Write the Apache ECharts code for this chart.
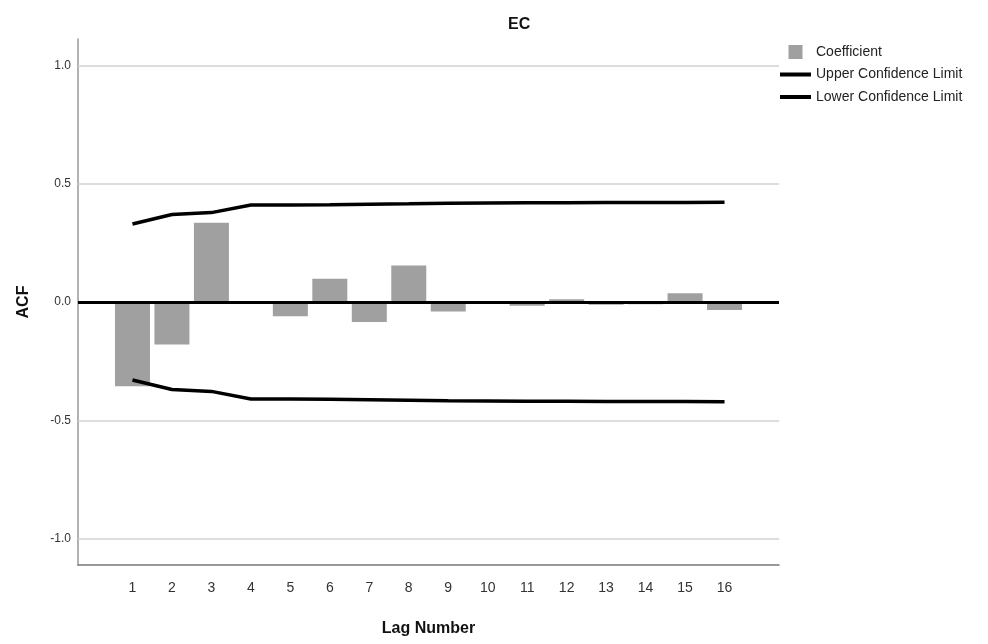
<!DOCTYPE html>
<html>
<head>
<meta charset="utf-8">
<script src="https://cdn.jsdelivr.net/npm/echarts@6/dist/echarts.min.js"></script>
<style>
  html, body { margin: 0; padding: 0; background: #fff; }
  #main { width: 988px; height: 644px; }
</style>
</head>
<body>
<div id="main"></div>
<script>
var lags = [1, 2, 3, 4, 5, 6, 7, 8, 9, 10, 11, 12, 13, 14, 15, 16];
var coefficient = [-0.356, -0.18, 0.335, -0.004, -0.06, 0.098, -0.085, 0.154, -0.04, -0.004, -0.016, 0.012, -0.012, -0.01, 0.037, -0.034];
var upperLimit = [0.33, 0.37, 0.378, 0.41, 0.41, 0.411, 0.413, 0.415, 0.418, 0.419, 0.42, 0.42, 0.421, 0.421, 0.421, 0.422];
var lowerLimit = [-0.33, -0.37, -0.378, -0.41, -0.41, -0.411, -0.413, -0.415, -0.418, -0.419, -0.42, -0.42, -0.421, -0.421, -0.421, -0.422];
var yTicks = [-1.0, -0.5, 0.0, 0.5, 1.0];

var font = "'Liberation Sans', Arial, sans-serif";

function pairs(vals) {
  return lags.map(function (l, i) { return [l, vals[i]]; });
}

var chart = echarts.init(document.getElementById('main'), null, { renderer: 'canvas' });

var lineIcon = 'path://M0,0L31,0L31,4L0,4Z';

var option = {
  animation: false,
  backgroundColor: '#fff',
  title: {
    text: 'EC',
    left: 503,
    top: 12,
    textStyle: { fontFamily: font, fontSize: 16, fontWeight: 'bold', color: '#111' }
  },
  legend: {
    orient: 'vertical',
    left: 775,
    top: 40,
    itemWidth: 31,
    itemHeight: 14,
    itemGap: 8.5,
    textStyle: { fontFamily: font, fontSize: 14, color: '#222' },
    data: [
      { name: 'Coefficient', icon: 'path://M0,0L10,0L10,10L0,10Z' },
      { name: 'Upper Confidence Limit', icon: lineIcon },
      { name: 'Lower Confidence Limit', icon: lineIcon }
    ]
  },
  grid: { left: 78, right: 209, top: 39, bottom: 79 },
  xAxis: {
    type: 'value',
    min: -0.38,
    max: 17.38,
    name: 'Lag Number',
    nameLocation: 'middle',
    nameGap: 56,
    nameTextStyle: { fontFamily: font, fontSize: 16, fontWeight: 'bold', color: '#111' },
    axisLine: { show: true, onZero: false, lineStyle: { color: '#777', width: 1.5 } },
    axisTick: { show: false },
    splitLine: { show: false },
    axisLabel: {
      customValues: lags,
      margin: 16,
      fontFamily: font,
      fontSize: 14,
      color: '#333'
    }
  },
  yAxis: {
    type: 'value',
    min: -1.112,
    max: 1.112,
    name: 'ACF',
    nameLocation: 'middle',
    nameGap: 46,
    nameTextStyle: { fontFamily: font, fontSize: 16, fontWeight: 'bold', color: '#111' },
    axisLine: { show: true, onZero: false, lineStyle: { color: '#999', width: 1.5 } },
    axisTick: { show: false },
    splitLine: { show: false },
    axisLabel: {
      customValues: yTicks,
      margin: 7,
      fontFamily: font,
      fontSize: 12,
      color: '#333',
      formatter: function (v) { return v.toFixed(1); }
    }
  },
  series: [
    {
      name: 'Coefficient',
      type: 'bar',
      barWidth: 35,
      itemStyle: { color: '#a0a0a0' },
      data: pairs(coefficient),
      markLine: {
        silent: true,
        symbol: ['none', 'none'],
        label: { show: false },
        lineStyle: { color: '#d2d2d2', width: 1.5, type: 'solid' },
        data: yTicks.filter(function (t) { return t !== 0; }).map(function (t) { return { yAxis: t }; })
      }
    },
    {
      name: 'Upper Confidence Limit',
      type: 'line',
      symbol: 'none',
      lineStyle: { color: '#000', width: 3.5 },
      itemStyle: { color: '#000' },
      data: pairs(upperLimit),
      z: 5,
      markLine: {
        silent: true,
        symbol: ['none', 'none'],
        label: { show: false },
        lineStyle: { color: '#000', width: 3, type: 'solid' },
        data: [{ yAxis: 0 }]
      }
    },
    {
      name: 'Lower Confidence Limit',
      type: 'line',
      symbol: 'none',
      lineStyle: { color: '#000', width: 3.5 },
      itemStyle: { color: '#000' },
      data: pairs(lowerLimit),
      z: 5
    }
  ]
};

chart.setOption(option);
</script>
</body>
</html>
